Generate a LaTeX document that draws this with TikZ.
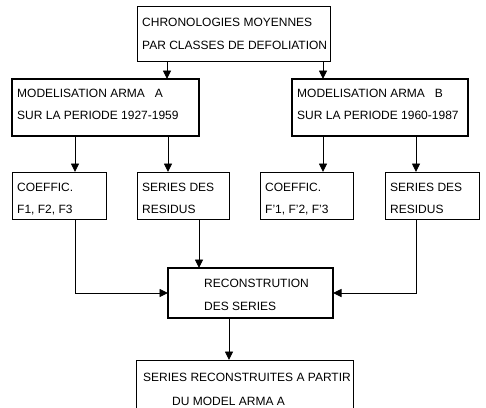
\documentclass[tikz,border=0pt]{standalone}
\usepackage{fontspec}
\setmainfont{Liberation Sans}
\usetikzlibrary{arrows.meta}
\begin{document}
\begin{tikzpicture}[x=1pt,y=-1pt,
  box/.style={draw, line width=0.9pt, inner sep=0pt, outer sep=0pt, rectangle},
  thickbox/.style={draw, line width=1.7pt, inner sep=0pt, outer sep=0pt, rectangle},
  txt/.style={anchor=base west, inner sep=0pt, font=\fontsize{12}{12}\selectfont},
  conn/.style={line width=0.9pt, -{Triangle[length=8.5pt,width=8pt]}}]
\useasboundingbox (0,0) rectangle (486,407);
\clip (0,0) rectangle (486,407);
% boxes
\node[box, minimum width=193pt, minimum height=55pt] (top) at (233.5,33.5) {};
\node[thickbox, minimum width=187pt, minimum height=57pt] (A) at (105.5,107.5) {};
\node[thickbox, minimum width=176pt, minimum height=57pt] (B) at (380,107.5) {};
\node[box, minimum width=94pt, minimum height=47pt] (c1) at (59,195.5) {};
\node[box, minimum width=92pt, minimum height=47pt] (r1) at (183,195.5) {};
\node[box, minimum width=93pt, minimum height=47pt] (c2) at (306.5,195.5) {};
\node[box, minimum width=94pt, minimum height=47pt] (r2) at (432,195.5) {};
\node[thickbox, minimum width=165pt, minimum height=50pt] (rec) at (250.5,293) {};
\node[box, minimum width=217pt, minimum height=70pt] (fin) at (244.5,395) {};
% texts
\node[txt] (t1) at (142,26) {CHRONOLOGIES MOYENNES};
\node[txt] (t2) at (142,49) {PAR CLASSES DE DEFOLIATION};
\node[txt] (a1) at (17,97) {MODELISATION ARMA\hspace{10pt}A};
\node[txt] (a2) at (17,119) {SUR LA PERIODE 1927-1959};
\node[txt] (b1) at (297,97) {MODELISATION ARMA\hspace{10pt}B};
\node[txt] (b2) at (297,119) {SUR LA PERIODE 1960-1987};
\node[txt] (c1a) at (17,191) {COEFFIC.};
\node[txt] (c1b) at (17,213) {F1, F2, F3};
\node[txt] (r1a) at (142,191) {SERIES DES};
\node[txt] (r1b) at (142,213) {RESIDUS};
\node[txt] (c2a) at (265,191) {COEFFIC.};
\node[txt] (c2b) at (265,213) {F'1, F'2, F'3};
\node[txt] (r2a) at (390,191) {SERIES DES};
\node[txt] (r2b) at (390,213) {RESIDUS};
\node[txt] (reca) at (204,287) {RECONSTRUTION};
\node[txt] (recb) at (204,310) {DES SERIES};
\node[txt] (fina) at (143,381) {SERIES RECONSTRUITES A PARTIR};
\node[txt] (finb) at (172,405) {DU MODEL ARMA A};
% x positions of vertical connectors
\coordinate (xa) at (167,0);
\coordinate (xb) at (323,0);
\coordinate (x1) at (75,0);
\coordinate (x2) at (168,0);
\coordinate (x3) at (323,0);
\coordinate (x4) at (416,0);
\coordinate (x5) at (199,0);
\coordinate (x6) at (229,0);
% connectors
\draw[conn] (top.south -| xa) -- (A.north -| xa);
\draw[conn] (top.south -| xb) -- (B.north -| xb);
\draw[conn] (A.south -| x1) -- (c1.north -| x1);
\draw[conn] (A.south -| x2) -- (r1.north -| x2);
\draw[conn] (B.south -| x3) -- (c2.north -| x3);
\draw[conn] (B.south -| x4) -- (r2.north -| x4);
\draw[conn] (c1.south -| x1) |- (rec.west);
\draw[conn] (r1.south -| x5) -- (rec.north -| x5);
\draw[conn] (r2.south -| x4) |- (rec.east);
\draw[conn] (rec.south -| x6) -- (fin.north -| x6);
\end{tikzpicture}
\end{document}
